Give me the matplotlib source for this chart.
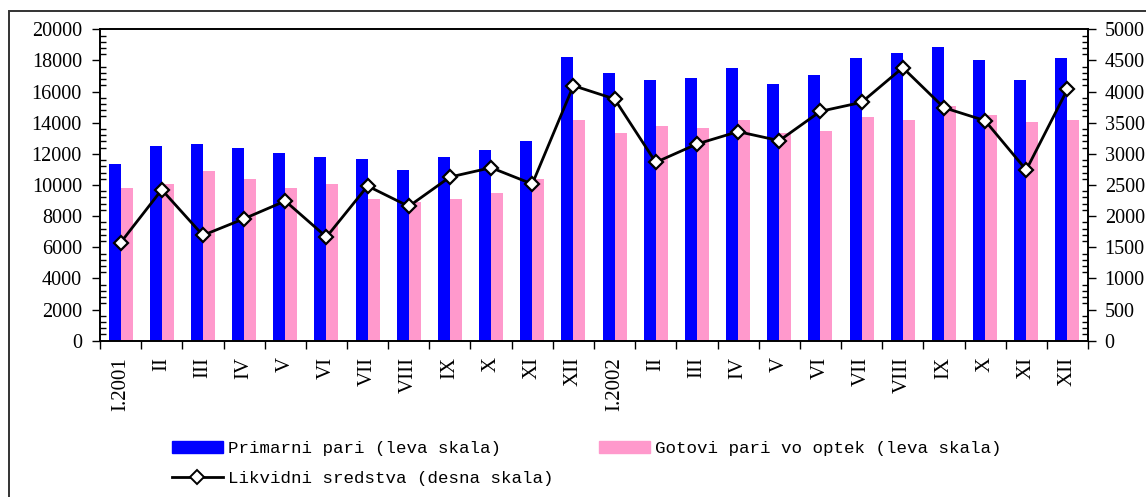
import numpy as np
import matplotlib
matplotlib.use("Agg")
import matplotlib.pyplot as plt
from matplotlib.patches import Rectangle
from matplotlib.lines import Line2D
from matplotlib.ticker import MultipleLocator

months = ["I.2001", "II", "III", "IV", "V", "VI", "VII", "VIII", "IX", "X", "XI", "XII",
          "I.2002", "II", "III", "IV", "V", "VI", "VII", "VIII", "IX", "X", "XI", "XII"]

# left scale
primarni = [11350, 12500, 12630, 12380, 12060, 11800, 11670, 10960, 11800, 12250, 12830, 18220,
            17190, 16750, 16870, 17520, 16490, 17070, 18160, 18480, 18860, 18030, 16750, 18160]
gotovi = [9810, 10060, 10900, 10390, 9810, 10060, 9100, 8930, 9100, 9490, 10390, 14180,
          13340, 13790, 13660, 14180, 13340, 13470, 14370, 14180, 15070, 14500, 14050, 14180]

# right scale
likvidni = [1574, 2425, 1692, 1959, 2243, 1665, 2484, 2157, 2628, 2778, 2516, 4095,
            3881, 2864, 3158, 3357, 3212, 3683, 3827, 4384, 3742, 3533, 2741, 4036]

BLUE = "#0000FF"
PINK = "#FF99CC"
serif = ["Liberation Serif", "DejaVu Serif"]
mono = ["Liberation Mono", "DejaVu Sans Mono"]

fig = plt.figure(figsize=(11.46, 4.97), dpi=100)
fig.patch.set_facecolor("white")

# outer frame (runs off the right and bottom edge like in the source)
fig.patches.append(Rectangle((9 / 1146, -0.2), 1.2, 0.2 + (1 - 11 / 497),
                             transform=fig.transFigure, fill=False,
                             edgecolor="#333333", linewidth=1.4, zorder=0))

ax = fig.add_axes([100 / 1146, 1 - 340.7 / 497, 988 / 1146, (340.7 - 29.3) / 497])
ax2 = ax.twinx()

x = np.arange(len(months))
w = 0.29
ax.bar(x - w / 2, primarni, w, color=BLUE, zorder=2)
ax.bar(x + w / 2, gotovi, w, color=PINK, zorder=2)

ax2.plot(x, likvidni, color="black", linewidth=2, marker="D", markersize=7.5,
         markerfacecolor="white", markeredgecolor="black", markeredgewidth=1.6, zorder=3)

ax.set_xlim(-0.5, len(months) - 0.5)
ax.set_ylim(0, 20000)
ax2.set_ylim(0, 5000)

ax.yaxis.set_major_locator(MultipleLocator(2000))
ax.yaxis.set_minor_locator(MultipleLocator(400))
ax2.yaxis.set_major_locator(MultipleLocator(500))
ax2.yaxis.set_minor_locator(MultipleLocator(100))

# category boundary ticks, labels in between
ax.set_xticks(np.arange(-0.5, len(months), 1.0))
ax.set_xticklabels([])
ax.set_xticks(x, minor=True)
ax.set_xticklabels(months, minor=True, rotation=90, fontsize=15, family=serif, va="top")
ax.tick_params(axis="x", which="major", direction="out", length=6, width=1)
ax.tick_params(axis="x", which="minor", length=0, pad=12)

ax.tick_params(axis="y", which="major", direction="out", length=6, width=1,
               labelsize=14.5, pad=7)
ax.tick_params(axis="y", which="minor", direction="in", length=4, width=1)
ax2.tick_params(axis="y", which="major", direction="out", length=6, width=1,
                labelsize=14.5, pad=6)
ax2.tick_params(axis="y", which="minor", direction="in", length=4, width=1)
for lbl in ax.get_yticklabels() + ax2.get_yticklabels():
    lbl.set_family(serif)

for a in (ax, ax2):
    for s in a.spines.values():
        s.set_linewidth(1.2)

handles = [
    Rectangle((0, 0), 1, 1, color=BLUE),
    Line2D([], [], color="black", linewidth=2, marker="D", markersize=7,
           markerfacecolor="white", markeredgecolor="black", markeredgewidth=1.4),
    Rectangle((0, 0), 1, 1, color=PINK),
]
labels = ["Primarni pari (leva skala)", "Likvidni sredstva (desna skala)",
          "Gotovi pari vo optek (leva skala)"]
fig.legend(handles, labels, ncol=2, loc="upper left",
           bbox_to_anchor=(163 / 1146, 1 - 432 / 497),
           prop={"family": mono, "size": 12.6}, frameon=False,
           handlelength=2.9, handleheight=0.7, handletextpad=0.3,
           columnspacing=2.6, labelspacing=0.85, borderpad=0)

fig.savefig("out.png", dpi=100)
